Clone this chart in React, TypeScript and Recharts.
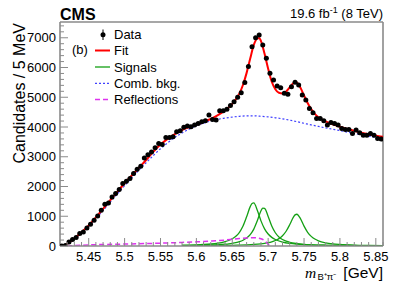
import React from 'react';
import { ComposedChart, Line, XAxis, YAxis, ReferenceLine } from 'recharts';

const W = 399;
const H = 286;
const X_MIN = 5.41;
const X_MAX = 5.86;
const Y_MAX = 7530;

const dataMass = [
  5.4125, 5.4175, 5.4225, 5.4275, 5.4325, 5.4375, 5.4425, 5.4475, 5.4525, 5.4575,
  5.4625, 5.4675, 5.4725, 5.4775, 5.4825, 5.4875, 5.4925, 5.4975, 5.5025, 5.5075,
  5.5125, 5.5175, 5.5225, 5.5275, 5.5325, 5.5375, 5.5425, 5.5475, 5.5525, 5.5575,
  5.5625, 5.5675, 5.5725, 5.5775, 5.5825, 5.5875, 5.5925, 5.5975, 5.6025, 5.6075,
  5.6125, 5.6175, 5.6225, 5.6275, 5.6325, 5.6375, 5.6425, 5.6475, 5.6525, 5.6575,
  5.6625, 5.6675, 5.6725, 5.6775, 5.6825, 5.6875, 5.6925, 5.6975, 5.7025, 5.7075,
  5.7125, 5.7175, 5.7225, 5.7275, 5.7325, 5.7375, 5.7425, 5.7475, 5.7525, 5.7575,
  5.7625, 5.7675, 5.7725, 5.7775, 5.7825, 5.7875, 5.7925, 5.7975, 5.8025, 5.8075,
  5.8125, 5.8175, 5.8225, 5.8275, 5.8325, 5.8375, 5.8425, 5.8475, 5.8525, 5.8575,
];
const dataCounts = [
  0, 15, 135, 215, 283, 417, 471, 606, 730, 865,
  1010, 1202, 1404, 1448, 1650, 1764, 1899, 2101, 2178, 2269,
  2437, 2582, 2683, 2960, 3070, 3160, 3300, 3447, 3414, 3650,
  3650, 3670, 3838, 3872, 3990, 4030, 4010, 4064, 4120, 4175,
  4209, 4401, 4255, 4232, 4545, 4545, 4600, 4720, 4850, 5000,
  5150, 5500, 6030, 6700, 7000, 7090, 6760, 6310, 5805, 5580,
  5377, 5320, 5131, 5098, 5354, 5501, 5411, 5074, 4906, 4626,
  4478, 4290, 4290, 4209, 4064, 4155, 4120, 4064, 3952, 3918,
  3918, 3784, 3896, 3805, 3727, 3727, 3784, 3727, 3616, 3593,
];

const fitMass = [
  5.415, 5.42, 5.43, 5.44, 5.45, 5.46, 5.47, 5.48, 5.49, 5.5,
  5.51, 5.52, 5.53, 5.54, 5.55, 5.56, 5.57, 5.58, 5.59, 5.6,
  5.61, 5.62, 5.63, 5.64, 5.65, 5.655, 5.66, 5.665, 5.67, 5.675,
  5.68, 5.685, 5.6875, 5.69, 5.695, 5.7, 5.705, 5.71, 5.715, 5.72,
  5.725, 5.73, 5.735, 5.7375, 5.74, 5.745, 5.75, 5.755, 5.76, 5.765,
  5.77, 5.78, 5.79, 5.8, 5.81, 5.82, 5.83, 5.84, 5.85, 5.86,
];
const fitValues = [
  0, 70, 250, 460, 690, 960, 1250, 1540, 1830, 2110,
  2370, 2630, 2890, 3170, 3410, 3600, 3760, 3900, 4000, 4080,
  4170, 4270, 4400, 4560, 4780, 4930, 5130, 5420, 5820, 6300,
  6760, 6980, 6990, 6890, 6460, 5960, 5520, 5270, 5150, 5130,
  5190, 5330, 5470, 5510, 5490, 5320, 5060, 4810, 4600, 4440,
  4330, 4190, 4090, 4010, 3940, 3870, 3810, 3760, 3710, 3670,
];

const bkgMass = [
  5.415, 5.42, 5.43, 5.44, 5.45, 5.46, 5.47, 5.48, 5.49, 5.5,
  5.51, 5.52, 5.53, 5.54, 5.55, 5.56, 5.57, 5.58, 5.59, 5.6,
  5.61, 5.62, 5.63, 5.64, 5.65, 5.66, 5.67, 5.68, 5.69, 5.7,
  5.71, 5.72, 5.73, 5.74, 5.75, 5.76, 5.77, 5.78, 5.79, 5.8,
  5.81, 5.82, 5.83, 5.84, 5.85, 5.86,
];
const bkgValues = [
  0, 60, 235, 440, 665, 920, 1195, 1475, 1755, 2025,
  2290, 2550, 2800, 3040, 3270, 3470, 3650, 3800, 3930, 4040,
  4130, 4200, 4260, 4300, 4335, 4360, 4375, 4375, 4360, 4340,
  4310, 4275, 4230, 4180, 4125, 4070, 4020, 3970, 3925, 3880,
  3830, 3785, 3740, 3695, 3650, 3610,
];

const sig1Mass = [
  5.58, 5.6, 5.61, 5.62, 5.63, 5.635, 5.64, 5.645, 5.65, 5.655,
  5.66, 5.665, 5.67, 5.675, 5.6775, 5.68, 5.685, 5.69, 5.695, 5.7,
  5.705, 5.71, 5.72, 5.73, 5.74, 5.75, 5.76, 5.78, 5.8, 5.83, 5.86,
];
const sig1Values = [
  25, 38, 50, 67, 95, 116, 145, 185, 242, 329,
  462, 671, 980, 1324, 1430, 1450, 1195, 845, 577, 402,
  290, 217, 132, 88, 63, 47, 36, 24, 17, 11, 7,
];

const sig2Mass = [
  5.58, 5.6, 5.62, 5.63, 5.64, 5.645, 5.65, 5.655, 5.66, 5.665,
  5.67, 5.675, 5.68, 5.685, 5.69, 5.6925, 5.695, 5.7, 5.705, 5.71,
  5.715, 5.72, 5.73, 5.74, 5.75, 5.76, 5.78, 5.8, 5.83, 5.86,
];
const sig2Values = [
  15, 21, 33, 44, 62, 74, 91, 114, 146, 193,
  266, 380, 567, 856, 1185, 1276, 1265, 994, 670, 445,
  305, 219, 125, 80, 55, 40, 24, 16, 10, 7,
];

const sig3Mass = [
  5.58, 5.6, 5.62, 5.64, 5.65, 5.66, 5.67, 5.68, 5.69, 5.695,
  5.7, 5.705, 5.71, 5.715, 5.72, 5.725, 5.73, 5.735, 5.7375, 5.74,
  5.745, 5.75, 5.755, 5.76, 5.765, 5.77, 5.78, 5.79, 5.8, 5.82,
  5.84, 5.86,
];
const sig3Values = [
  8, 10, 13, 19, 24, 30, 39, 52, 74, 90,
  112, 142, 185, 249, 346, 496, 715, 963, 1047, 1068,
  918, 667, 462, 324, 234, 175, 107, 71, 51, 29,
  19, 13,
];

const reflMass = [
  5.42, 5.45, 5.5, 5.55, 5.58, 5.6, 5.62, 5.64, 5.65, 5.66,
  5.67, 5.68, 5.685, 5.69, 5.695, 5.7, 5.7025,
];
const reflValues = [
  0, 35, 65, 95, 120, 140, 165, 200, 225, 250,
  270, 280, 272, 245, 180, 60, 0,
];

const xTicks = [
  5.42, 5.43, 5.44, 5.45, 5.46, 5.47, 5.48, 5.49, 5.5, 5.51,
  5.52, 5.53, 5.54, 5.55, 5.56, 5.57, 5.58, 5.59, 5.6, 5.61,
  5.62, 5.63, 5.64, 5.65, 5.66, 5.67, 5.68, 5.69, 5.7, 5.71,
  5.72, 5.73, 5.74, 5.75, 5.76, 5.77, 5.78, 5.79, 5.8, 5.81,
  5.82, 5.83, 5.84, 5.85, 5.86,
];
const xMajorTicks = [5.45, 5.5, 5.55, 5.6, 5.65, 5.7, 5.75, 5.8, 5.85];
const xMajorLabels = ['5.45', '5.5', '5.55', '5.6', '5.65', '5.7', '5.75', '5.8', '5.85'];

const yTicks = [
  0, 200, 400, 600, 800, 1000, 1200, 1400, 1600, 1800,
  2000, 2200, 2400, 2600, 2800, 3000, 3200, 3400, 3600, 3800,
  4000, 4200, 4400, 4600, 4800, 5000, 5200, 5400, 5600, 5800,
  6000, 6200, 6400, 6600, 6800, 7000, 7200, 7400,
];
const yMajorTicks = [0, 1000, 2000, 3000, 4000, 5000, 6000, 7000];
const yMajorLabels = ['0', '1000', '2000', '3000', '4000', '5000', '6000', '7000'];

const toPts = (xs: number[], ys: number[]) => xs.map((x, i) => ({ x, y: ys[i] }));

const dataPts = toPts(dataMass, dataCounts);
const fitPts = toPts(fitMass, fitValues);
const bkgPts = toPts(bkgMass, bkgValues);
const sig1Pts = toPts(sig1Mass, sig1Values);
const sig2Pts = toPts(sig2Mass, sig2Values);
const sig3Pts = toPts(sig3Mass, sig3Values);
const reflPts = toPts(reflMass, reflValues);

const FONT = '"Liberation Sans", Arial, Helvetica, sans-serif';
const AXIS = '#8a8a8a';
const TXT = '#000';
const RED = '#ff0000';
const GREEN = '#14a014';
const BLUE = '#4040ff';
const MAGENTA = '#dd33ee';

const majorIndex = (arr: number[], v: number) => arr.findIndex((t) => Math.abs(t - v) < 1e-6);

const XTick = (props: any) => {
  const { x, y, payload } = props;
  const k = majorIndex(xMajorTicks, payload.value);
  const major = k >= 0;
  return (
    <g>
      <line x1={x} x2={x} y1={y} y2={y - (major ? 8 : 4)} stroke={AXIS} strokeWidth={1} />
      {major && (
        <text x={x} y={y + 15} textAnchor="middle" fontSize={13} fill={TXT} fontFamily={FONT}>
          {xMajorLabels[k]}
        </text>
      )}
    </g>
  );
};

const YTick = (props: any) => {
  const { x, y, payload } = props;
  const k = majorIndex(yMajorTicks, payload.value);
  const major = k >= 0;
  return (
    <g>
      <line x1={x} x2={x + (major ? 8 : 4)} y1={y} y2={y} stroke={AXIS} strokeWidth={1} />
      {major && (
        <text x={x - 4} y={y + 4.7} textAnchor="end" fontSize={13} fill={TXT} fontFamily={FONT}>
          {yMajorLabels[k]}
        </text>
      )}
    </g>
  );
};

const DataDot = (props: any) => {
  const { cx, cy, index } = props;
  if (cx == null || cy == null) return <g key={`d${index}`} />;
  return <circle key={`d${index}`} cx={cx} cy={cy} r={2.5} fill="#000" stroke="none" />;
};

export default function App() {
  return (
    <div style={{ position: 'absolute', left: 0, top: 0, width: W, height: H, background: '#fff' }}>
      <ComposedChart width={W} height={H} margin={{ top: 22, right: 16, left: 0, bottom: 0 }}>
        <XAxis
          dataKey="x"
          type="number"
          domain={[X_MIN, X_MAX]}
          allowDataOverflow
          ticks={xTicks}
          interval={0}
          tickSize={0}
          tickMargin={0}
          tickLine={false}
          tick={(p: any) => <XTick {...p} />}
          axisLine={{ stroke: AXIS, strokeWidth: 1.6 }}
          height={40}
        />
        <YAxis
          type="number"
          domain={[0, Y_MAX]}
          allowDataOverflow
          ticks={yTicks}
          interval={0}
          tickSize={0}
          tickMargin={0}
          tickLine={false}
          tick={(p: any) => <YTick {...p} />}
          axisLine={{ stroke: AXIS, strokeWidth: 1.6 }}
          width={60}
        />
        <ReferenceLine y={Y_MAX} stroke={AXIS} strokeWidth={1.6} />
        <ReferenceLine x={X_MAX} stroke={AXIS} strokeWidth={1.6} />
        <Line data={sig1Pts} dataKey="y" type="monotone" stroke={GREEN} strokeWidth={1.3} dot={false} activeDot={false} isAnimationActive={false} />
        <Line data={sig2Pts} dataKey="y" type="monotone" stroke={GREEN} strokeWidth={1.3} dot={false} activeDot={false} isAnimationActive={false} />
        <Line data={sig3Pts} dataKey="y" type="monotone" stroke={GREEN} strokeWidth={1.3} dot={false} activeDot={false} isAnimationActive={false} />
        <Line data={reflPts} dataKey="y" type="monotone" stroke={MAGENTA} strokeWidth={1.5} strokeDasharray="5 3" dot={false} activeDot={false} isAnimationActive={false} />
        <Line data={bkgPts} dataKey="y" type="monotone" stroke={BLUE} strokeWidth={1.2} strokeDasharray="2 2" dot={false} activeDot={false} isAnimationActive={false} />
        <Line data={fitPts} dataKey="y" type="monotone" stroke={RED} strokeWidth={2} dot={false} activeDot={false} isAnimationActive={false} />
        <Line data={dataPts} dataKey="y" stroke="none" dot={(p: any) => <DataDot {...p} />} activeDot={false} isAnimationActive={false} />
      </ComposedChart>
      <svg width={W} height={H} style={{ position: 'absolute', left: 0, top: 0, pointerEvents: 'none' }} fontFamily={FONT}>
        <text x={60} y={19.5} fontSize={16} fontWeight="bold" fill={TXT}>CMS</text>
        <text x={383} y={18.3} fontSize={13} textAnchor="end" fill={TXT}>
          19.6 fb<tspan fontSize={9} dy={-5}>-1</tspan>
          <tspan dy={5}> (8 TeV)</tspan>
        </text>
        <text x={72} y={54} fontSize={13} fill={TXT}>(b)</text>
        {/* legend */}
        <line x1={103} x2={103} y1={29.5} y2={40} stroke="#000" strokeWidth={1} />
        <circle cx={103} cy={34.7} r={2.5} fill="#000" />
        <text x={114} y={39.3} fontSize={13} fill={TXT}>Data</text>
        <line x1={95} x2={110} y1={50.5} y2={50.5} stroke={RED} strokeWidth={2} />
        <text x={114} y={55.1} fontSize={13} fill={TXT}>Fit</text>
        <line x1={95} x2={110} y1={67} y2={67} stroke={GREEN} strokeWidth={1.3} />
        <text x={114} y={71.6} fontSize={13} fill={TXT}>Signals</text>
        <line x1={95} x2={110} y1={83.3} y2={83.3} stroke={BLUE} strokeWidth={1.2} strokeDasharray="2 2" />
        <text x={114} y={87.9} fontSize={13} fill={TXT}>Comb. bkg.</text>
        <line x1={95} x2={110} y1={99.5} y2={99.5} stroke={MAGENTA} strokeWidth={1.5} strokeDasharray="5 3" />
        <text x={114} y={104.1} fontSize={13} fill={TXT}>Reflections</text>
        {/* axis titles */}
        <text transform="translate(25,23) rotate(-90)" textAnchor="end" fontSize={16} fill={TXT}>
          Candidates / 5 MeV
        </text>
        <text x={305} y={277.5} fontSize={15.5} fill={TXT} fontFamily='"Liberation Serif", "DejaVu Serif", serif' fontStyle="italic">m</text>
        <text x={317.5} y={280} fontSize={9.5} fill={TXT}>B⁺π⁻</text>
        <text x={383} y={277.5} textAnchor="end" fontSize={15.5} fill={TXT}>[GeV]</text>
      </svg>
    </div>
  );
}
